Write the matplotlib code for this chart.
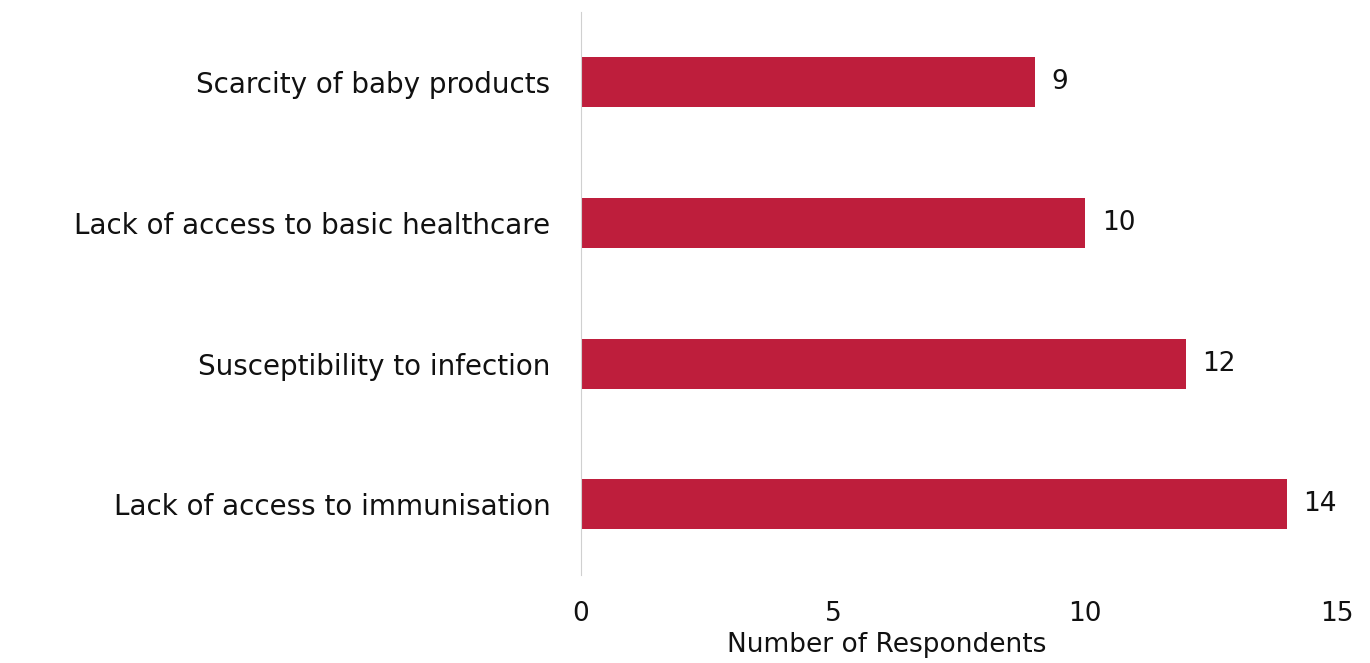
import matplotlib.pyplot as plt

# データ
categories = ['Lack of access to immunisation', 'Susceptibility to infection',
              'Lack of access to basic healthcare', 'Scarcity of baby products']
values = [14, 12, 10, 9]
xticks = [0, 5, 10, 15]

plt.rcParams['font.family'] = ['DejaVu Sans']
text_color = '#111111'

fig = plt.figure(figsize=(13.7, 6.63), dpi=100)
ax = fig.add_axes([0.424, 0.133, 0.552, 0.849])

ax.barh(range(len(categories)), values, height=0.355, color='#BE1E3C')

# 値ラベル
for i, v in enumerate(values):
    ax.text(v + 0.33, i, str(v), va='center', ha='left', size=19, color=text_color)

ax.set_xlim(0, 15)
ax.set_ylim(-0.5, 3.5)
ax.set_yticks(range(len(categories)))
ax.set_yticklabels(categories, size=20, color=text_color)
ax.set_xticks(xticks)
ax.set_xticklabels([str(t) for t in xticks], size=19, color=text_color)
ax.tick_params(axis='both', length=0)
ax.tick_params(axis='y', pad=22)
ax.tick_params(axis='x', pad=19)
ax.set_xlabel('Number of Respondents', size=19, color=text_color, labelpad=0)
ax.xaxis.set_label_coords(0.405, -0.102)

for s in ['top', 'right', 'bottom']:
    ax.spines[s].set_visible(False)
ax.spines['left'].set_color('#d0d0d0')

fig.savefig('out.png', dpi=100)
